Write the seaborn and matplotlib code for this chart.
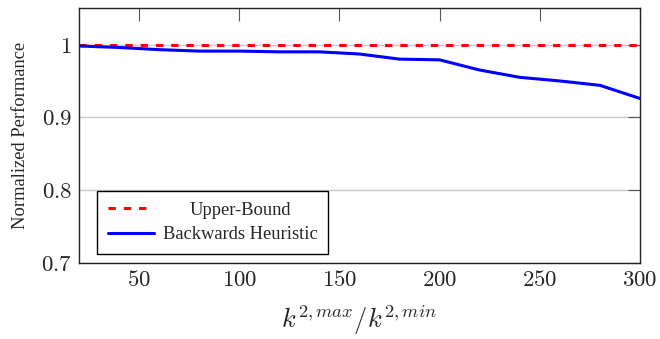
import numpy as np
import pandas as pd
import matplotlib
matplotlib.use("Agg")
import matplotlib.pyplot as plt
from matplotlib.ticker import FuncFormatter
import seaborn as sns

# values
ratio = [20, 40, 60, 80, 100, 120, 140, 160, 180, 200, 220, 240, 260, 280, 300]
backwards = [0.998, 0.996, 0.993, 0.991, 0.991, 0.990, 0.990, 0.987, 0.980,
             0.979, 0.965, 0.955, 0.950, 0.944, 0.926]
upper = [1.0] * len(ratio)

x_ticks = [50, 100, 150, 200, 250, 300]
y_ticks = [0.7, 0.8, 0.9, 1.0]

df = pd.DataFrame({"ratio": ratio, "Upper-Bound": upper, "Backwards Heuristic": backwards})

sns.set_style("white")
plt.rcParams["font.family"] = ["Liberation Serif", "DejaVu Serif"]
plt.rcParams["mathtext.fontset"] = "cm"

fig = plt.figure(figsize=(6.6, 3.39), dpi=100)
ax = fig.add_axes([0.1197, 0.224, 0.8500, 0.752])

sns.lineplot(data=df, x="ratio", y="Upper-Bound", ax=ax, color="#ff0000",
             lw=2.2, dashes=False, label="Upper-Bound", zorder=3)
ax.lines[-1].set_dashes((2.4, 2.6))
sns.lineplot(data=df, x="ratio", y="Backwards Heuristic", ax=ax, color="#0000ff",
             lw=2.2, label="Backwards Heuristic", zorder=3)

ax.set_xlim(20, 300)
ax.set_ylim(0.7, 1.05)
ax.set_xticks(x_ticks)
ax.set_yticks(y_ticks)
fmt = FuncFormatter(lambda v, p: "$%g$" % round(v, 2))
ax.xaxis.set_major_formatter(fmt)
ax.yaxis.set_major_formatter(fmt)
ax.tick_params(direction="in", length=9, width=0.8, color="#555555",
               labelsize=16.5, top=True, right=True, pad=5)
ax.grid(axis="y", color="#c8c8c8", lw=1.0)
ax.set_axisbelow(True)
for s in ax.spines.values():
    s.set_color("#222222")
    s.set_linewidth(1.0)

ax.set_xlabel("$k^{2,max}/k^{2,min}$", fontsize=19, labelpad=9)
ax.set_ylabel("Normalized Performance", fontsize=13.3, labelpad=9)

leg = ax.legend(loc="lower left", bbox_to_anchor=(0.032, 0.035), borderaxespad=0,
                fontsize=13.3, frameon=True, fancybox=False, edgecolor="black",
                framealpha=1, handlelength=2.5, borderpad=0.6, labelspacing=0.4,
                handletextpad=0.45)
leg.get_frame().set_linewidth(1.0)

# centre the shorter legend label like the reference
fig.canvas.draw()
r = fig.canvas.get_renderer()
w0 = leg.texts[0].get_window_extent(r).width
w1 = leg.texts[1].get_window_extent(r).width
leg.texts[0].set_x((w1 - w0) / 2)

fig.savefig("out.png", dpi=100)
